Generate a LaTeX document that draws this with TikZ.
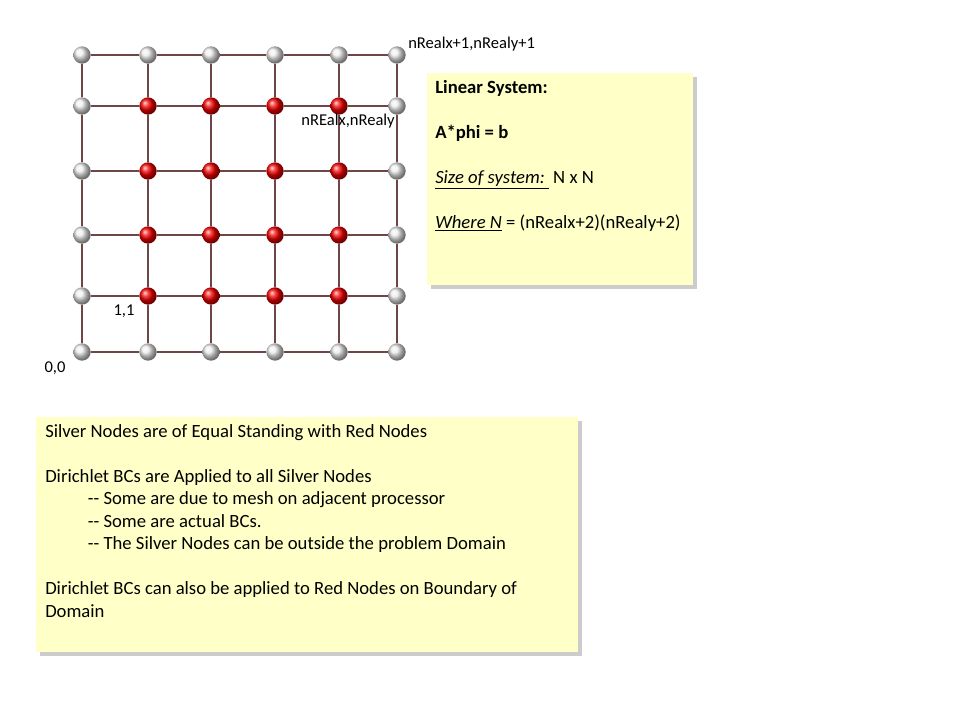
\documentclass[tikz,border=0pt]{standalone}
\usepackage{fontspec}
\setmainfont{Carlito}
\usetikzlibrary{shadows}

\definecolor{noteyellow}{RGB}{255,255,200}
\definecolor{linkbrown}{RGB}{110,70,70}

\begin{document}
\begin{tikzpicture}[
  x=0.75pt, y=-0.75pt,
  font=\fontsize{12.4}{14}\selectfont,
  silver/.style={circle, inner sep=0pt, minimum size=13pt, ball color=gray!15},
  redball/.style={circle, inner sep=0pt, minimum size=13pt, ball color=red!95!black},
  link/.style={draw=linkbrown, line width=1.1pt},
  notebox/.style={fill=noteyellow, anchor=north west, inner sep=0pt, drop shadow={shadow xshift=2.5pt, shadow yshift=-2.5pt, opacity=.4}},
  notetext/.style={anchor=north west, align=left, inner sep=0pt, font=\fontsize{14}{16.9}\selectfont},
  lab/.style={inner sep=0pt}
]
\useasboundingbox (0,0) rectangle (960,720);

% mesh nodes: silver ring, red interior
\foreach \i/\x in {0/82,1/148,2/211,3/275,4/339,5/397} {
  \foreach \j/\y in {0/352,1/296,2/235,3/171,4/106,5/55} {
    \pgfmathtruncatemacro{\inside}{(\i>0)&&(\i<5)&&(\j>0)&&(\j<5)}
    \ifnum\inside=1 \def\kind{redball}\else\def\kind{silver}\fi
    \node[\kind] (n-\i-\j) at (\x,\y) {};
  }
}

\foreach \i [evaluate=\i as \k using int(\i+1)] in {0,...,4} {
  \foreach \j in {0,...,5} {
    \draw[link] (n-\i-\j) -- (n-\k-\j);
    \draw[link] (n-\j-\i) -- (n-\j-\k);
  }
}

\node[lab, anchor=west] (toplab) at (408,44) {nRealx+1,nRealy+1};
\node[lab, anchor=east] (innerlab) at (395,121) {nREalx,nRealy};
\node[lab] (onelab) at (124,311) {1,1};
\node[lab] (originlab) at (55,368) {0,0};

\node[notebox, minimum width=199.5pt, minimum height=159pt] (sysbox) at (427,73) {};
\node[notetext] (systext) at (435,80) {
\textbf{Linear System:}\\[16.9pt]
\textbf{A*phi = b}\\[16.9pt]
\underline{\textit{Size of system:}~}~N x N\\[16.9pt]
\underline{\textit{Where N}} = (nRealx+2)(nRealy+2)
};

\node[notebox, minimum width=406.5pt, minimum height=176.25pt] (bcbox) at (36,417) {};
\node[notetext] (bctext) at (45,424) {
Silver Nodes are of Equal Standing with Red Nodes\\[16.9pt]
Dirichlet BCs are Applied to all Silver Nodes\\
\hspace*{32pt}-{}- Some are due to mesh on adjacent processor\\
\hspace*{32pt}-{}- Some are actual BCs.\\
\hspace*{32pt}-{}- The Silver Nodes can be outside the problem Domain\\[16.9pt]
Dirichlet BCs can also be applied to Red Nodes on Boundary of\\
Domain
};

\end{tikzpicture}
\end{document}
